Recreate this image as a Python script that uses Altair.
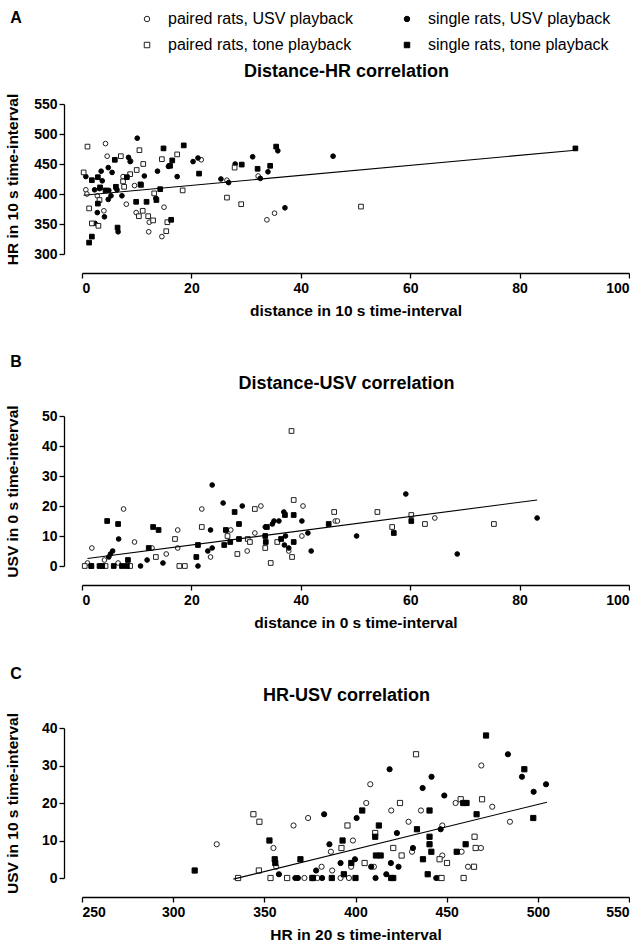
import altair as alt
import pandas as pd

FONT = "Liberation Sans"

PAIRED_USV = "paired rats, USV playback"
SINGLE_USV = "single rats, USV playback"
PAIRED_TONE = "paired rats, tone playback"
SINGLE_TONE = "single rats, tone playback"
# legend fills column by column: paired entries on the left, single on the right
GROUPS = [PAIRED_USV, PAIRED_TONE, SINGLE_USV, SINGLE_TONE]
SHAPES = ["circle", "square", "circle", "square"]
FILLS = ["white", "white", "black", "black"]
STROKES = ["#222222", "#222222", "black", "black"]

# ---- Panel A: distance vs heart rate (10 s interval) ----
a_paired_usv_x = [4.3, 4.6, 8.9, 0.7, 0.9, 2.8, 4.0, 7.5, 8.1, 9.6, 9.9, 12.3, 12.2, 14.6, 15.0, 21.8, 26.5, 32.2, 33.8, 35.2]
a_paired_usv_y = [484, 463, 455, 407, 400, 397, 372, 429, 383, 414, 369, 353, 337, 329, 378, 457, 423, 430, 357, 368]
a_single_usv_x = [10.1, 8.5, 8.8, 0.7, 3.5, 4.8, 5.5, 3.7, 2.3, 3.2, 4.9, 5.3, 4.8, 6.4, 7.3, 11.4, 13.8, 13.5, 15.8, 17.4,
                  20.3, 21.2, 25.4, 26.8, 28.0, 31.2, 2.8, 4.1, 2.4, 6.6, 32.6, 34.0, 35.8, 37.1, 45.9]
a_single_usv_y = [493, 461, 454, 429, 438, 444, 436, 422, 407, 409, 406, 397, 391, 407, 397, 430, 438, 393, 446, 429,
                  454, 460, 425, 419, 450, 462, 369, 362, 351, 337, 426, 437, 472, 377, 463]
a_paired_tone_x = [1.0, 0.3, 7.1, 10.5, 11.2, 10.0, 8.8, 7.5, 7.7, 14.6, 17.4, 10.8, 13.2, 18.4, 1.3, 1.8, 3.0, 3.2,
                   11.1, 10.4, 12.1, 13.0, 15.6, 15.4, 26.5, 29.1, 27.9, 51.0]
a_paired_tone_y = [479, 436, 463, 473, 450, 440, 433, 421, 412, 458, 466, 415, 401, 406, 376, 351, 347, 390,
                   372, 363, 363, 356, 353, 338, 394, 383, 444, 379]
a_single_tone_x = [6.0, 8.2, 14.9, 18.6, 16.5, 16.1, 21.4, 29.2, 1.8, 2.9, 3.3, 4.3, 2.9, 6.2, 10.7, 14.3, 9.9, 11.8,
                   13.6, 16.3, 6.5, 1.8, 1.3, 32.1, 35.5, 34.4, 90.2]
a_single_tone_y = [457, 428, 476, 481, 456, 447, 434, 449, 423, 428, 411, 406, 384, 412, 416, 408, 387, 387,
                   390, 357, 344, 329, 319, 442, 479, 447, 476]
a_fit_x = [0.3, 90.2]
a_fit_y = [398, 473]

# ---- Panel B: distance vs USV count (0 s interval) ----
b_paired_usv_x = [1.8, 1.0, 7.6, 9.6, 6.6, 4.1, 12.8, 15.4, 17.5, 17.5, 21.9, 23.5, 27.2, 30.2, 31.6, 32.7, 37.8, 40.4,
                  40.2, 46.3, 46.7, 64.5]
b_paired_usv_y = [6, 1, 19, 8, 1, 2, 6, 4, 12, 6, 19, 3, 12, 5, 11, 20, 5, 20, 10, 15, 15, 16]
b_single_usv_x = [6.7, 4.9, 5.2, 5.6, 10.7, 11.9, 14.8, 21.2, 23.5, 23.0, 23.8, 23.8, 25.8, 29.3, 33.5, 34.8, 35.1,
                  36.0, 36.9, 37.2, 37.0, 37.8, 40.2, 41.3, 41.9, 50.2, 59.2, 68.6, 83.2]
b_single_usv_y = [9, 3, 4, 5, 0, 2, 1, 0, 12, 5, 6, 27, 21, 20, 13, 14, 15, 15, 18, 10, 7, 6, 15, 11, 5, 10, 24, 4, 16]
b_paired_tone_x = [0.5, 1.7, 4.3, 8.8, 13.5, 17.0, 17.8, 18.8, 21.9, 26.6, 28.4, 30.3, 30.7, 31.6, 33.5, 34.5, 35.7,
                   38.3, 38.7, 38.4, 46.1, 54.0, 56.7, 60.2, 62.7, 75.3]
b_paired_tone_y = [0, 0, 0, 0, 3, 9, 0, 0, 13, 10, 4, 9, 8, 19, 6, 1, 8, 45, 22, 3, 18, 18, 13, 17, 14, 14]
b_single_tone_x = [4.6, 6.6, 1.7, 3.2, 3.7, 5.8, 7.3, 8.2, 8.4, 13.0, 14.0, 12.2, 21.2, 20.9, 26.0, 26.3, 27.1, 27.9,
                   28.7, 28.7, 33.5, 33.6, 33.8, 38.7, 38.7, 37.1, 36.4, 45.1, 57.0, 60.2]
b_single_tone_y = [15, 14, 0, 0, 0, 0, 0, 0, 2, 13, 12, 6, 7, 3, 7, 12, 8, 18, 14, 9, 10, 8, 13, 17, 8, 17, 9, 14, 11, 15]
b_fit_x = [1.0, 83.2]
b_fit_y = [2.5, 22.0]

# ---- Panel C: heart rate (20 s) vs USV count (10 s) ----
c_paired_usv_x = [323.9, 366.0, 374.0, 355.0, 356.5, 372.0, 376.2, 379.2, 391.8, 396.4, 381.4, 387.2, 386.5, 397.6,
                  398.6, 469.0, 408.1, 405.9, 419.6, 435.9, 454.9, 475.0, 429.1, 447.6, 484.7, 431.0, 447.6, 458.2,
                  468.8, 461.7, 410.1, 445.8]
c_paired_usv_y = [9, 14, 16, 8, 3, 0, 0, 0, 0, 0, 3, 2, 7, 3, 10, 30, 25, 20, 18, 18, 20, 19, 15, 14, 15, 7, 6, 7,
                  8, 3, 3, 0]
c_single_usv_x = [382.8, 385.7, 358.0, 367.0, 368.4, 381.7, 378.4, 391.8, 400.6, 483.6, 491.3, 497.7, 504.5, 418.7,
                  441.7, 436.8, 448.7, 422.7, 446.7, 431.5, 399.7, 408.6, 419.4, 423.6, 411.0, 416.9, 444.3]
c_single_usv_y = [17, 9, 1, 0, 0, 0, 2, 4, 16, 33, 27, 23, 25, 29, 27, 24, 22, 12, 13, 8, 5, 3, 4, 3, 0, 1, 0]
c_paired_tone_x = [344.0, 347.3, 395.6, 392.3, 347.0, 335.6, 353.4, 362.5, 376.3, 433.2, 457.7, 469.4, 424.4, 410.8,
                   420.7, 425.3, 405.0, 446.1, 450.2, 465.3, 465.9, 465.0, 447.2, 459.3]
c_paired_tone_y = [17, 15, 14, 8, 2, 0, 0, 0, 0, 33, 21, 21, 20, 12, 8, 6, 4, 5, 4, 11, 8, 3, 0, 0]
c_single_tone_x = [311.8, 352.8, 369.8, 392.9, 355.7, 356.0, 376.6, 387.0, 400.0, 393.6, 397.7, 471.6, 492.6, 497.5,
                   403.7, 412.8, 410.8, 440.6, 433.7, 440.6, 440.6, 441.6, 466.4, 459.1, 460.9, 460.4, 455.5, 411.2,
                   413.8, 437.0, 439.6, 419.6, 420.7]
c_single_tone_y = [2, 10, 5, 10, 5, 4, 0, 0, 0, 1, 4, 38, 29, 16, 18, 14, 11, 18, 13, 11, 9, 7, 17, 20, 20, 9, 7, 6,
                   6, 5, 1, 0, 0]
c_fit_x = [333.0, 505.0]
c_fit_y = [-0.3, 20.2]


def points_frame(series):
    rows = []
    for group, xs, ys in series:
        for xv, yv in zip(xs, ys):
            rows.append({"x": xv, "y": yv, "group": group})
    return pd.DataFrame(rows)


def panel(series, fit_x, fit_y, x_dom, x_ticks, y_dom, y_ticks,
          x_title, y_title, title, letter, letter_y, size, show_legend):
    pts = points_frame(series)
    if show_legend:
        leg = alt.Legend(
            title=None, orient="none", legendX=57, legendY=-93,
            columns=2, gridAlign="each", padding=0,
            symbolSize=30, symbolStrokeWidth=1,
            labelFont=FONT, labelFontSize=16, labelColor="black", labelLimit=400,
            labelOffset=13, rowPadding=10, columnPadding=46,
        )
    else:
        leg = None

    x_enc = alt.X(
        "x:Q",
        scale=alt.Scale(domain=x_dom, nice=False, zero=False),
        axis=alt.Axis(values=x_ticks, title=x_title, offset=19, labelOverlap=False,
                      labelPadding=3, titlePadding=8),
    )
    y_enc = alt.Y(
        "y:Q",
        scale=alt.Scale(domain=y_dom, nice=False, zero=False),
        axis=alt.Axis(values=y_ticks, title=y_title, offset=18, labelOverlap=False,
                      labelPadding=2, titleX=-52, titleY=75,
                      titleAngle=270, titleAlign="center",
                      titleBaseline="middle"),
    )

    dots = alt.Chart(pts).mark_point(
        filled=True, opacity=1, size=size, strokeWidth=1
    ).encode(
        x=x_enc,
        y=y_enc,
        shape=alt.Shape("group:N", scale=alt.Scale(domain=GROUPS, range=SHAPES), legend=leg),
        fill=alt.Fill("group:N", scale=alt.Scale(domain=GROUPS, range=FILLS), legend=leg),
        stroke=alt.Stroke("group:N", scale=alt.Scale(domain=GROUPS, range=STROKES), legend=leg),
    )

    # least-squares trend line, drawn with the same axes as the points
    fit = alt.Chart(pd.DataFrame({"x": fit_x, "y": fit_y})).mark_line(
        color="black", strokeWidth=1.1
    ).encode(x=x_enc, y=y_enc)

    tag = alt.Chart(pd.DataFrame({"letter": [letter]})).mark_text(
        font=FONT, fontSize=16, fontWeight="bold", color="black",
        align="center", baseline="middle"
    ).encode(text="letter:N", x=alt.value(-66), y=alt.value(letter_y))

    heading = alt.Chart(pd.DataFrame({"heading": [title]})).mark_text(
        font=FONT, fontSize=18, fontWeight="bold", color="black",
        align="center", baseline="middle"
    ).encode(text="heading:N", x=alt.value(264.5), y=alt.value(-32))

    return alt.layer(dots, fit, tag, heading).properties(width=547, height=150)


panel_a = panel(
    [(PAIRED_USV, a_paired_usv_x, a_paired_usv_y), (SINGLE_USV, a_single_usv_x, a_single_usv_y),
     (PAIRED_TONE, a_paired_tone_x, a_paired_tone_y), (SINGLE_TONE, a_single_tone_x, a_single_tone_y)],
    a_fit_x, a_fit_y, [0, 100], [0, 20, 40, 60, 80, 100], [300, 550], [300, 350, 400, 450, 500, 550],
    "distance in 10 s time-interval", "HR in 10 s time-interval", "Distance-HR correlation", "A", -86, 22, True,
)
panel_b = panel(
    [(PAIRED_USV, b_paired_usv_x, b_paired_usv_y), (SINGLE_USV, b_single_usv_x, b_single_usv_y),
     (PAIRED_TONE, b_paired_tone_x, b_paired_tone_y), (SINGLE_TONE, b_single_tone_x, b_single_tone_y)],
    b_fit_x, b_fit_y, [0, 100], [0, 20, 40, 60, 80, 100], [0, 50], [0, 10, 20, 30, 40, 50],
    "distance in 0 s time-interval", "USV in 0 s time-interval", "Distance-USV correlation", "B", -54, 22, False,
)
panel_c = panel(
    [(PAIRED_USV, c_paired_usv_x, c_paired_usv_y), (SINGLE_USV, c_single_usv_x, c_single_usv_y),
     (PAIRED_TONE, c_paired_tone_x, c_paired_tone_y), (SINGLE_TONE, c_single_tone_x, c_single_tone_y)],
    c_fit_x, c_fit_y, [250, 550], [250, 300, 350, 400, 450, 500, 550], [0, 40], [0, 10, 20, 30, 40],
    "HR in 20 s time-interval", "USV in 10 s time-interval", "HR-USV correlation", "C", -54, 27, False,
)

chart = alt.vconcat(panel_a, panel_b, panel_c, spacing=35).resolve_scale(
    shape="independent", fill="independent", stroke="independent"
).resolve_legend(
    shape="independent", fill="independent", stroke="independent"
).properties(
    padding={"left": 5, "top": 10, "right": 0, "bottom": 0}, background="white"
).configure_view(stroke=None).configure_axis(
    grid=False, domainColor="black", domainWidth=1.3, tickColor="black", tickWidth=1.3, tickSize=5,
    labelFont=FONT, labelFontSize=14, labelFontWeight="bold", labelColor="black",
    titleFont=FONT, titleFontSize=15.5, titleFontWeight="bold", titleColor="black",
)

chart.save("out.html", embed_options={"renderer": "svg", "actions": False})
